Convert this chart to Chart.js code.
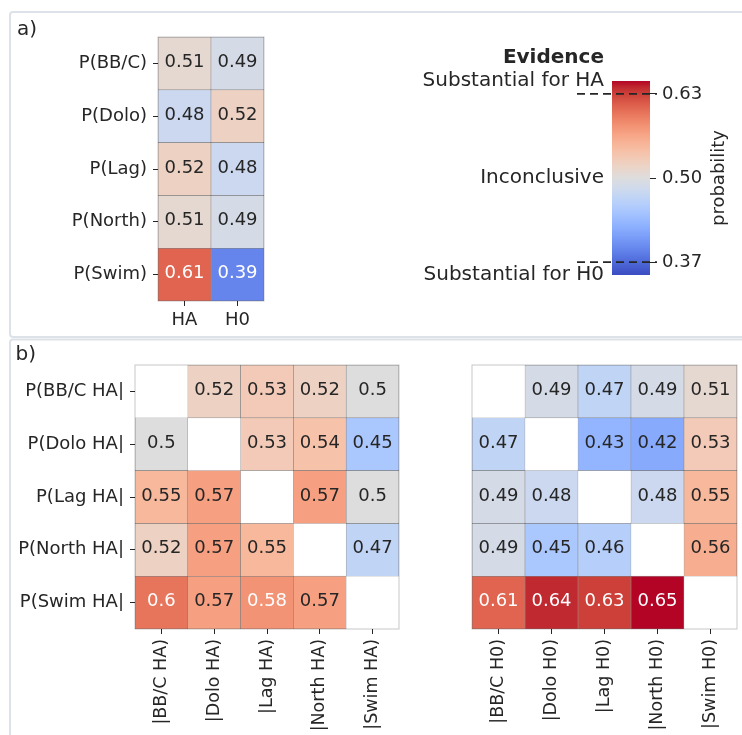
<!DOCTYPE html>
<html><head><meta charset="utf-8">
<script src="https://cdn.jsdelivr.net/npm/chart.js@4.4.1/dist/chart.umd.min.js"></script>
<style>
html,body{margin:0;padding:0;background:#fff;}
#wrap{position:relative;width:742px;height:735px;overflow:hidden;background:#fff;}
#wrap canvas{position:absolute;left:0;top:0;}
</style></head><body>
<div id="wrap">
<canvas id="bg" width="742" height="735"></canvas>
<canvas id="cA" width="742" height="735"></canvas>
<canvas id="cCB" width="742" height="735"></canvas>
<canvas id="cBL" width="742" height="735"></canvas>
<canvas id="cBR" width="742" height="735"></canvas>
</div>
<script>
// ---------------- data ----------------
const rowsA = ['P(BB/C)', 'P(Dolo)', 'P(Lag)', 'P(North)', 'P(Swim)'];
const colsA = ['HA', 'H0'];
const valuesA_HA = [0.51, 0.48, 0.52, 0.51, 0.61];
const valuesA_H0 = [0.49, 0.52, 0.48, 0.49, 0.39];

const rowsB = ['P(BB/C HA|', 'P(Dolo HA|', 'P(Lag HA|', 'P(North HA|', 'P(Swim HA|'];
const colsB_HA = ['|BB/C HA)', '|Dolo HA)', '|Lag HA)', '|North HA)', '|Swim HA)'];
const colsB_H0 = ['|BB/C H0)', '|Dolo H0)', '|Lag H0)', '|North H0)', '|Swim H0)'];
const valuesB_HA = [
  [null, 0.52, 0.53, 0.52, 0.5],
  [0.5, null, 0.53, 0.54, 0.45],
  [0.55, 0.57, null, 0.57, 0.5],
  [0.52, 0.57, 0.55, null, 0.47],
  [0.6, 0.57, 0.58, 0.57, null]
];
const valuesB_H0 = [
  [null, 0.49, 0.47, 0.49, 0.51],
  [0.47, null, 0.43, 0.42, 0.53],
  [0.49, 0.48, null, 0.48, 0.55],
  [0.49, 0.45, 0.46, null, 0.56],
  [0.61, 0.64, 0.63, 0.65, null]
];

const colorRange = [0.35, 0.65];
const colorbarTicks = [0.37, 0.50, 0.63];
const evidenceThresholds = [0.37, 0.63];
const evidenceTicks = [0.35, 0.50, 0.65];
const evidenceLabels = ['Substantial for H0', 'Inconclusive', 'Substantial for HA'];

// ---------------- colormap (coolwarm) ----------------
const CW = [[59,76,192],[68,90,204],[77,104,215],[87,117,225],[98,130,234],[108,142,241],[119,154,247],[130,165,251],[141,176,254],[152,185,255],[163,194,255],[174,201,253],[184,208,249],[194,213,244],[204,217,238],[213,219,230],[221,221,221],[229,216,209],[236,211,197],[241,204,185],[245,196,173],[247,187,160],[247,177,148],[247,166,135],[244,154,123],[241,141,111],[236,127,99],[229,112,88],[222,96,77],[213,80,66],[203,62,56],[192,40,47],[180,4,38]];
function coolwarm(t) {
  t = Math.max(0, Math.min(1, t));
  const p = t * (CW.length - 1);
  const i = Math.min(CW.length - 2, Math.floor(p));
  const f = p - i;
  const c = [0,1,2].map(k => Math.round(CW[i][k] + (CW[i+1][k] - CW[i][k]) * f));
  return 'rgb(' + c.join(',') + ')';
}
function colorFor(v) { return coolwarm((v - colorRange[0]) / (colorRange[1] - colorRange[0])); }
function textColorFor(v) { return (v >= 0.58 || v <= 0.40) ? '#ffffff' : '#262626'; }

const FONT = 'DejaVu Sans';
const INK = '#262626';
Chart.defaults.font.family = FONT;
Chart.defaults.color = INK;

// ---------------- background frames and panel letters ----------------
(function () {
  const c = document.getElementById('bg').getContext('2d');
  c.fillStyle = '#fff'; c.fillRect(0, 0, 742, 735);
  c.strokeStyle = '#dde2e9'; c.lineWidth = 2;
  function rr(x, y, w, h, r) {
    c.beginPath();
    c.moveTo(x + r, y); c.lineTo(x + w - r, y); c.quadraticCurveTo(x + w, y, x + w, y + r);
    c.lineTo(x + w, y + h - r); c.quadraticCurveTo(x + w, y + h, x + w - r, y + h);
    c.lineTo(x + r, y + h); c.quadraticCurveTo(x, y + h, x, y + h - r);
    c.lineTo(x, y + r); c.quadraticCurveTo(x, y, x + r, y); c.closePath(); c.stroke();
  }
  rr(10, 12, 800, 325, 3);
  rr(10, 339.5, 800, 500, 3);
  c.fillStyle = INK; c.font = '20px "' + FONT + '"'; c.textBaseline = 'alphabetic'; c.textAlign = 'left';
  c.fillText('a)', 17, 35);
  c.fillText('b)', 15.5, 360);
})();

// ---------------- heatmap builder ----------------
const W = 742, H = 735;
function heatmap(id, rows, cols, matrix, area, o) {
  const frameAndText = {
    id: 'frameAndText',
    afterDatasetsDraw(chart) {
      const ctx = chart.ctx, ca = chart.chartArea;
      ctx.save();
      ctx.strokeStyle = 'rgba(0,0,0,0.22)'; ctx.lineWidth = 1;
      ctx.strokeRect(ca.left, ca.top, ca.right - ca.left, ca.bottom - ca.top);
      ctx.font = '18px "' + FONT + '"'; ctx.textAlign = 'center'; ctx.textBaseline = 'middle';
      rows.forEach((r, i) => {
        const meta = chart.getDatasetMeta(i);
        meta.data.forEach((bar, j) => {
          const v = matrix[i][j];
          if (v == null) return;
          const p = bar.getProps(['x', 'y', 'base'], true);
          ctx.fillStyle = textColorFor(v);
          ctx.fillText(String(v), p.x, (p.y + p.base) / 2 - 1);
        });
      });
      ctx.restore();
    }
  };
  const yW = o.showY ? area.left : 0;
  return new Chart(document.getElementById(id), {
    type: 'bar',
    data: {
      labels: cols,
      datasets: rows.map((r, i) => ({
        label: r,
        data: cols.map((c, j) => matrix[i][j] == null ? null : [i, i + 1]),
        backgroundColor: cols.map((c, j) => matrix[i][j] == null ? 'rgba(0,0,0,0)' : colorFor(matrix[i][j])),
        borderColor: 'rgba(30,30,30,0.45)',
        borderWidth: 0.6,
        borderSkipped: false,
        grouped: false,
        categoryPercentage: 1,
        barPercentage: 1
      }))
    },
    options: {
      responsive: false, animation: false, events: [],
      layout: { padding: { left: area.left - yW, top: area.top, right: W - area.right, bottom: H - area.bottom - o.xH } },
      plugins: { legend: { display: false }, tooltip: { enabled: false }, title: { display: false } },
      scales: {
        x: {
          type: 'category', offset: true,
          grid: { offset: false, drawOnChartArea: false, drawTicks: true, tickLength: 5, tickColor: INK, tickWidth: 1 },
          border: { display: false },
          ticks: { color: INK, font: { family: FONT, size: o.xFont }, padding: o.xPad, autoSkip: false, maxRotation: o.rot, minRotation: o.rot },
          afterFit: (s) => { s.height = o.xH; s.paddingLeft = 0; s.paddingRight = 0; }
        },
        y: {
          type: 'linear', min: 0, max: rows.length, reverse: true, position: 'left', display: o.showY,
          afterBuildTicks: (s) => { s.ticks = rows.map((r, i) => ({ value: i + 0.5 })); },
          ticks: { color: INK, font: { family: FONT, size: 18 }, padding: 6, callback: (v) => rows[Math.floor(v)] },
          grid: { drawOnChartArea: false, drawTicks: true, tickLength: 5, tickColor: INK, tickWidth: 1 },
          border: { display: false },
          afterFit: (s) => { s.width = yW; s.paddingTop = 0; s.paddingBottom = 0; }
        }
      }
    },
    plugins: [frameAndText]
  });
}

const matrixA = rowsA.map((r, i) => [valuesA_HA[i], valuesA_H0[i]]);
heatmap('cA', rowsA, colsA, matrixA, { left: 158, top: 37, right: 264, bottom: 301 }, { showY: true, xH: 40, rot: 0, xPad: 4, xFont: 18 });
heatmap('cBL', rowsB, colsB_HA, valuesB_HA, { left: 135, top: 365, right: 399, bottom: 629 }, { showY: true, xH: 100, rot: 90, xPad: 5, xFont: 17.5 });
heatmap('cBR', rowsB, colsB_H0, valuesB_H0, { left: 472, top: 365, right: 737, bottom: 629 }, { showY: false, xH: 100, rot: 90, xPad: 5, xFont: 17.5 });

// ---------------- colorbar ----------------
const cbArea = { left: 612, top: 81, right: 650, bottom: 275 };
const cbDecor = {
  id: 'cbDecor',
  afterDraw(chart) {
    const ctx = chart.ctx, ca = chart.chartArea, ys = chart.scales.y;
    ctx.save();
    ctx.strokeStyle = INK; ctx.lineWidth = 1.8; ctx.setLineDash([8, 5]);
    evidenceThresholds.forEach(v => {
      const y = ys.getPixelForValue(v);
      ctx.beginPath(); ctx.moveTo(ca.left - 35, y); ctx.lineTo(ca.right + 7, y); ctx.stroke();
    });
    ctx.setLineDash([]);
    ctx.fillStyle = INK;
    ctx.font = 'bold 20px "' + FONT + '"'; ctx.textAlign = 'right'; ctx.textBaseline = 'alphabetic';
    ctx.fillText('Evidence', ca.left - 8, ca.top - 18);
    ctx.font = '18px "' + FONT + '"'; ctx.textAlign = 'center';
    ctx.translate(ca.right + 74, (ca.top + ca.bottom) / 2);
    ctx.rotate(-Math.PI / 2);
    ctx.fillText('probability', 0, 0);
    ctx.restore();
  }
};
new Chart(document.getElementById('cCB'), {
  type: 'bar',
  data: {
    labels: ['probability'],
    datasets: [{
      data: [colorRange],
      backgroundColor: (c) => {
        const ch = c.chart;
        if (!ch.chartArea) return 'rgba(0,0,0,0)';
        const ys = ch.scales.y;
        const g = ch.ctx.createLinearGradient(0, ys.getPixelForValue(colorRange[0]), 0, ys.getPixelForValue(colorRange[1]));
        CW.forEach((col, k) => g.addColorStop(k / (CW.length - 1), 'rgb(' + col.join(',') + ')'));
        return g;
      },
      borderWidth: 0, categoryPercentage: 1, barPercentage: 1, yAxisID: 'y'
    }]
  },
  options: {
    responsive: false, animation: false, events: [],
    layout: { padding: { left: 0, top: cbArea.top, right: W - cbArea.right - 80, bottom: H - cbArea.bottom } },
    plugins: { legend: { display: false }, tooltip: { enabled: false } },
    scales: {
      x: { display: false, offset: true },
      y: {
        type: 'linear', position: 'right', min: colorRange[0], max: colorRange[1],
        afterBuildTicks: (s) => { s.ticks = colorbarTicks.map(v => ({ value: v })); },
        ticks: { color: INK, font: { family: FONT, size: 18 }, padding: 6, callback: (v) => Number(v).toFixed(2) },
        grid: { drawOnChartArea: false, drawTicks: true, tickLength: 6, tickColor: INK, tickWidth: 1 },
        border: { display: false },
        afterFit: (s) => { s.width = 80; s.paddingTop = 0; s.paddingBottom = 0; }
      },
      yL: {
        type: 'linear', position: 'left', min: colorRange[0], max: colorRange[1],
        afterBuildTicks: (s) => { s.ticks = evidenceTicks.map(v => ({ value: v })); },
        ticks: { color: INK, font: { family: FONT, size: 20 }, padding: 8, callback: (v, i) => evidenceLabels[i] },
        grid: { display: false, drawTicks: false },
        border: { display: false },
        afterFit: (s) => { s.width = cbArea.left; s.paddingTop = 0; s.paddingBottom = 0; }
      }
    }
  },
  plugins: [cbDecor]
});
</script>
</body></html>
